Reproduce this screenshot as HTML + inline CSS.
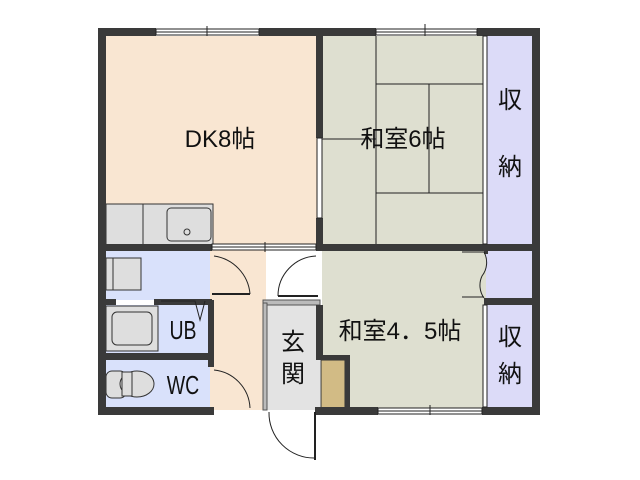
<!DOCTYPE html>
<html><head><meta charset="utf-8"><style>
html,body{margin:0;padding:0;background:#fff;width:640px;height:480px;overflow:hidden}
svg{display:block}
text{font-family:"Liberation Sans","Noto Sans CJK JP",sans-serif;fill:#111}
</style></head><body>
<svg width="640" height="480" viewBox="0 0 640 480" xmlns="http://www.w3.org/2000/svg">
<rect x="106" y="36" width="214" height="210" fill="#f9e6d2"/>
<rect x="210" y="246" width="56" height="164" fill="#f9e6d2"/>
<rect x="322" y="36" width="164" height="210" fill="#dedfd0"/>
<rect x="322" y="250" width="164" height="158" fill="#dedfd0"/>
<rect x="486" y="36" width="48" height="210" fill="#dcdbf8"/>
<rect x="486" y="250" width="48" height="50" fill="#dcdbf8"/>
<rect x="486" y="304" width="48" height="104" fill="#dcdbf8"/>
<rect x="106" y="250" width="104" height="50" fill="#d9e1fb"/>
<rect x="106" y="305" width="104" height="48" fill="#d9e1fb"/>
<rect x="106" y="360" width="104" height="48" fill="#d9e1fb"/>
<rect x="263" y="300" width="57" height="110" fill="#e3e3e3"/>
<rect x="263" y="300" width="57" height="5" fill="#bbb" stroke="#555" stroke-width="1"/>
<rect x="263" y="303" width="4" height="107" fill="#bbb" stroke="#555" stroke-width="1"/>
<rect x="321" y="360" width="24" height="48" fill="#d2bb85" stroke="#333" stroke-width="1"/>
<g stroke="#222" stroke-width="1">
<line x1="376" y1="36" x2="376" y2="244"/>
<line x1="376" y1="84" x2="484" y2="84"/>
<line x1="376" y1="193" x2="484" y2="193"/>
<line x1="429" y1="84" x2="429" y2="193"/>
<line x1="322" y1="139" x2="376" y2="139"/>
</g>
<rect x="106" y="204" width="107" height="41" fill="#dedede" stroke="#333" stroke-width="1"/>
<line x1="143" y1="204" x2="143" y2="245" stroke="#333"/>
<rect x="167" y="208" width="44" height="33" rx="4" fill="none" stroke="#333"/>
<circle cx="187" cy="232" r="3" fill="none" stroke="#333"/>
<rect x="106" y="258" width="35" height="32" fill="#dedede" stroke="#333"/>
<line x1="113" y1="258" x2="113" y2="290" stroke="#333"/>
<rect x="106" y="306" width="52" height="45" fill="#dedede" stroke="#333"/>
<rect x="112" y="312" width="40" height="33" rx="5" fill="none" stroke="#333"/>
<rect x="106" y="371" width="20" height="27" rx="6" fill="#dedede" stroke="#333"/>
<ellipse cx="137" cy="384" rx="17" ry="13" fill="#dedede" stroke="#333"/>
<rect x="122" y="372" width="10" height="24" fill="#dedede" stroke="#333"/>
<g fill="#3a3a3a">
<rect x="98" y="28" width="58" height="8"/>
<rect x="259" y="28" width="117" height="8"/>
<rect x="477" y="28" width="63" height="8"/>
<rect x="98" y="28" width="8" height="387"/>
<rect x="532" y="28" width="8" height="387"/>
<rect x="316" y="28" width="7" height="110"/>
<rect x="316" y="218" width="7" height="32"/>
<rect x="98" y="244" width="114" height="7"/>
<rect x="316" y="244" width="224" height="7"/>
<rect x="98" y="299" width="18" height="6"/>
<rect x="154" y="299" width="58" height="6"/>
<rect x="208" y="300" width="6" height="53"/>
<rect x="98" y="353" width="116" height="7"/>
<rect x="208" y="353" width="6" height="14"/>
<rect x="98" y="407" width="116" height="8"/>
<rect x="316" y="305" width="7" height="55"/>
<rect x="316" y="355" width="34" height="5"/>
<rect x="345" y="355" width="5" height="60"/>
<rect x="315" y="407" width="63" height="8"/>
<rect x="482" y="407" width="58" height="8"/>
<rect x="484" y="298" width="56" height="7"/>
<rect x="484" y="244" width="4" height="10"/>
</g>
<g fill="#fff" stroke="#222" stroke-width="1">
<rect x="156" y="29" width="103" height="6"/>
<rect x="376" y="29" width="101" height="6"/>
<rect x="378" y="408" width="104" height="6"/>
<rect x="212" y="244" width="104" height="6"/>
<rect x="483" y="36" width="4" height="208"/>
<rect x="483" y="305" width="4" height="102"/>
<rect x="317" y="138" width="5" height="80"/>
</g>
<line x1="156" y1="32" x2="259" y2="32" stroke="#222"/>
<line x1="207" y1="26" x2="207" y2="36" stroke="#222"/>
<line x1="376" y1="32" x2="477" y2="32" stroke="#222"/>
<line x1="425" y1="24" x2="425" y2="36" stroke="#222"/>
<line x1="378" y1="411" x2="482" y2="411" stroke="#222"/>
<line x1="430" y1="405" x2="430" y2="415" stroke="#222"/>
<line x1="212" y1="247" x2="316" y2="247" stroke="#222"/>
<line x1="265" y1="242" x2="265" y2="252" stroke="#222"/>
<g fill="none" stroke="#222" stroke-width="1">
<path d="M214 256 A42 42 0 0 1 250 294"/><line x1="212" y1="294" x2="250" y2="294" stroke-width="2"/>
<path d="M316 256 A40 40 0 0 0 278 296"/><line x1="278" y1="296" x2="318" y2="296" stroke-width="2"/>
<path d="M214 370 A40 40 0 0 1 250 408"/>
<path d="M269 412 A45 45 0 0 0 315 458"/><line x1="315" y1="412" x2="315" y2="460" stroke-width="2"/>
<path d="M484 252 A22 22 0 0 1 482 276 A22 22 0 0 0 484 298"/>
<line x1="462" y1="252" x2="484" y2="252"/><line x1="462" y1="297" x2="484" y2="297"/>
<path d="M161 301 L195 301 L200 320 L205 301"/>
</g>
<text x="220" y="147" font-size="24" text-anchor="middle">DK8帖</text>
<text x="403" y="147" font-size="24" text-anchor="middle">和室6帖</text>
<text x="400" y="339" font-size="24" text-anchor="middle">和室4．5帖</text>
<text x="510" y="108" font-size="24" text-anchor="middle">収</text>
<text x="510" y="175" font-size="24" text-anchor="middle">納</text>
<text x="510" y="345" font-size="24" text-anchor="middle">収</text>
<text x="510" y="382" font-size="24" text-anchor="middle">納</text>
<text x="183" y="339" font-size="26" text-anchor="middle" transform="translate(183 0) scale(0.75 1) translate(-183 0)">UB</text>
<text x="183" y="394" font-size="26" text-anchor="middle" transform="translate(183 0) scale(0.75 1) translate(-183 0)">WC</text>
<text x="293" y="350" font-size="24" text-anchor="middle">玄</text>
<text x="293" y="382" font-size="24" text-anchor="middle">関</text>
</svg>
</body></html>
